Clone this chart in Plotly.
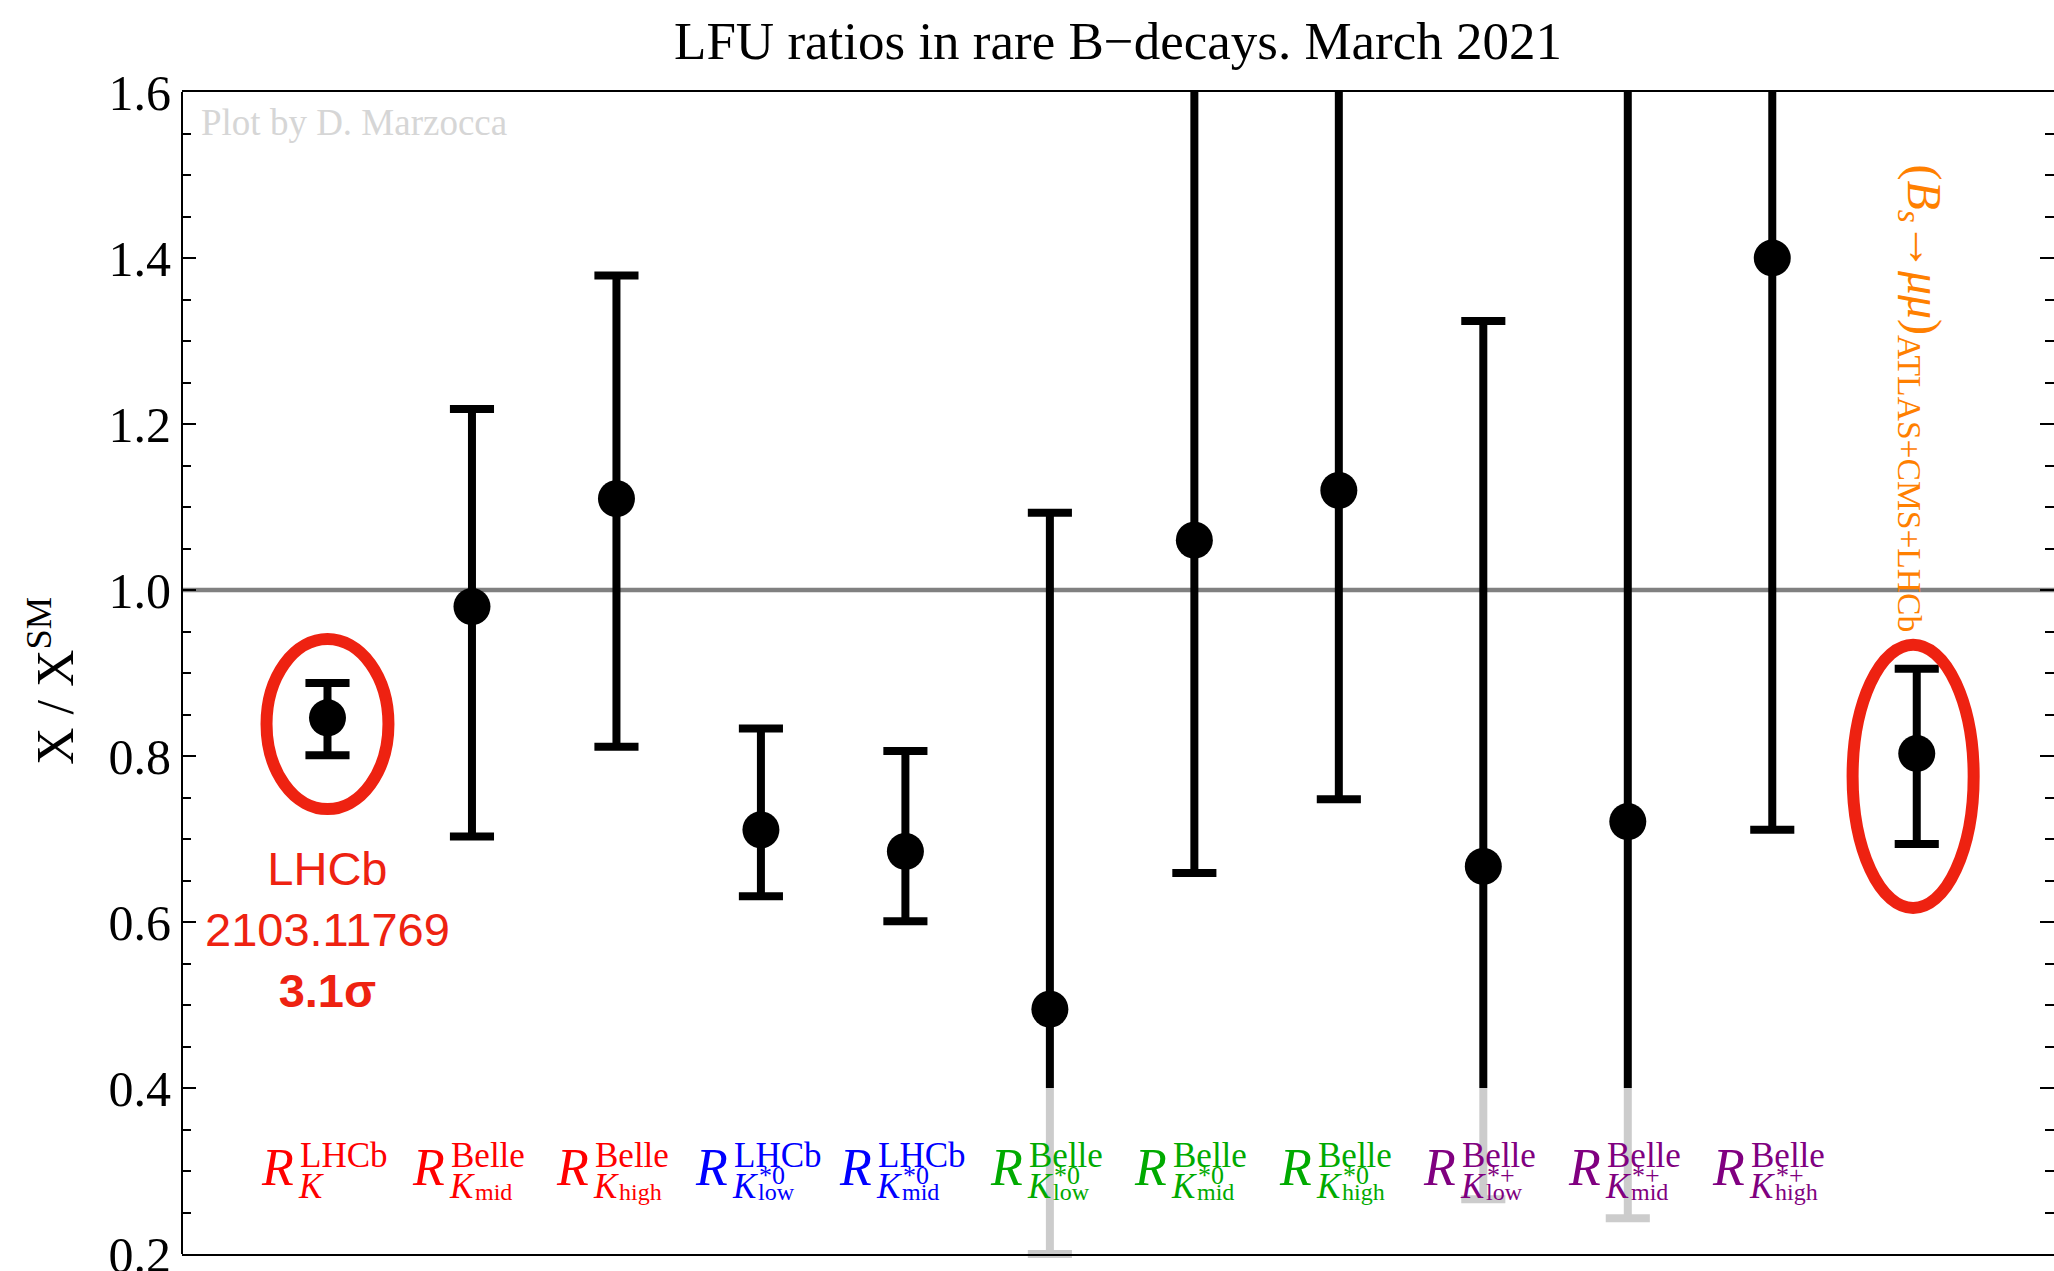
import plotly.graph_objects as go

# ---- data: ratios X / X_SM with 1-sigma intervals, one entry per measurement ----
positions = list(range(1, 13))
central = [0.846, 0.980, 1.110, 0.711, 0.685, 0.495, 1.060, 1.120, 0.667, 0.721, 1.400, 0.803]
upper = [0.888, 1.218, 1.379, 0.833, 0.806, 1.093, 1.720, 1.780, 1.324, 1.680, 2.100, 0.905]
lower = [0.801, 0.703, 0.811, 0.631, 0.601, 0.200, 0.659, 0.748, 0.266, 0.243, 0.711, 0.694]

# label pieces for the eleven R-ratios (R_{K...}^{experiment})
label_experiment = ["LHCb", "Belle", "Belle", "LHCb", "LHCb", "Belle", "Belle", "Belle",
                    "Belle", "Belle", "Belle"]
label_state = ["", "", "", "*0", "*0", "*0", "*0", "*0", "*+", "*+", "*+"]
label_bin = ["", "mid", "high", "low", "mid", "low", "mid", "high", "low", "mid", "high"]
label_colors = ["#ff0000"] * 3 + ["#0000ff"] * 2 + ["#00aa00"] * 3 + ["#800080"] * 3

y_ticks = [0.2, 0.4, 0.6, 0.8, 1.0, 1.2, 1.4, 1.6]
Y_MIN, Y_MAX = 0.2, 1.6
FADE_BELOW = 0.4          # error bars are drawn light gray below this value

SERIF = "Liberation Serif"
SANS = "Liberation Sans"
HIGHLIGHT = "#ee2211"

fig = go.Figure()


def segments(triples):
    xs, ys = [], []
    for x, a, b in triples:
        xs += [x, x, None]
        ys += [a, b, None]
    return xs, ys


black_parts = [(p, max(lo, FADE_BELOW), hi) for p, lo, hi in zip(positions, lower, upper)]
gray_parts = [(p, lo, FADE_BELOW) for p, lo in zip(positions, lower) if lo < FADE_BELOW]

gx, gy = segments(gray_parts)
fig.add_trace(go.Scatter(x=gx, y=gy, mode="lines", line=dict(color="#cccccc", width=8),
                         hoverinfo="skip", showlegend=False))
bx, by = segments(black_parts)
fig.add_trace(go.Scatter(x=bx, y=by, mode="lines", line=dict(color="black", width=8),
                         hoverinfo="skip", showlegend=False))

# caps at the interval ends that fall inside the plotted range
cap_x, cap_y, cap_c = [], [], []
for p, lo, hi in zip(positions, lower, upper):
    if hi <= Y_MAX:
        cap_x.append(p); cap_y.append(hi); cap_c.append("black")
    cap_x.append(p); cap_y.append(lo)
    cap_c.append("black" if lo >= FADE_BELOW else "#cccccc")
fig.add_trace(go.Scatter(
    x=cap_x, y=cap_y, mode="markers", cliponaxis=False,
    marker=dict(symbol="line-ew", size=31.5, color=cap_c,
                line=dict(color=cap_c, width=8)),
    hoverinfo="skip", showlegend=False))

fig.add_trace(go.Scatter(x=positions, y=central, mode="markers",
                         marker=dict(size=37, color="black"), showlegend=False))

# ---- frame, reference line at the SM value and highlight ellipses ----
shapes = [
    dict(type="line", xref="paper", yref="paper", x0=0, x1=0, y0=0, y1=1,
         line=dict(color="black", width=2), layer="above"),
    dict(type="line", xref="paper", yref="y", x0=0, x1=1, y0=1.0, y1=1.0,
         line=dict(color="#808080", width=4.5), layer="below"),
    dict(type="circle", xref="x", yref="y", x0=1 - 0.422, x1=1 + 0.422,
         y0=0.8385 - 0.1025, y1=0.8385 + 0.1025,
         line=dict(color=HIGHLIGHT, width=12)),
    dict(type="circle", xref="x", yref="y", x0=11.975 - 0.419, x1=11.975 + 0.419,
         y0=0.7754 - 0.1586, y1=0.7754 + 0.1586,
         line=dict(color=HIGHLIGHT, width=12)),
]

annotations = []

# composite labels R^{exp}_{K^{state}_{bin}}
LABEL_Y = 0.2836
for i, (exp, st, bn, col) in enumerate(zip(label_experiment, label_state, label_bin, label_colors)):
    xc = positions[i]
    off = 32 if exp == "LHCb" else 26
    common = dict(xref="x", yref="y", x=xc, y=LABEL_Y, showarrow=False, yanchor="middle")
    annotations.append(dict(common, text="<i>R</i>", xanchor="right", xshift=-off + 1, yshift=17.5,
                            font=dict(family=SERIF, size=52, color=col)))
    annotations.append(dict(common, text=exp, xanchor="left", xshift=-off + 3, yshift=28.8,
                            font=dict(family=SERIF, size=35, color=col)))
    annotations.append(dict(common, text="<i>K</i>", xanchor="left", xshift=-off + 1, yshift=-2.2,
                            font=dict(family=SERIF, size=35, color=col)))
    if st:
        annotations.append(dict(common, text=st, xanchor="left", xshift=-off + 28, yshift=8.8,
                                font=dict(family=SERIF, size=26, color=col)))
    if bn:
        annotations.append(dict(common, text=bn, xanchor="left", xshift=-off + 27, yshift=-6.9,
                                font=dict(family=SERIF, size=24, color=col)))

# LHCb result note
annotations.append(dict(xref="x", yref="y", x=1, y=0.591, showarrow=False,
                        xanchor="center", yanchor="middle",
                        text="LHCb<br>2103.11769<br><b>3.1σ</b>",
                        font=dict(family=SANS, size=47, color=HIGHLIGHT)))

# B_s -> mu mu label (vertical)
annotations.append(dict(xref="x", yref="y", x=12, y=1.231, xshift=4, showarrow=False,
                        textangle=90, xanchor="center", yanchor="middle",
                        text="(<i>B</i><sub><i>s</i></sub>→<i>μμ</i>)<sub>ATLAS+CMS+LHCb</sub>",
                        font=dict(family=SERIF, size=48, color="#ff8000")))

# credit line
annotations.append(dict(xref="paper", yref="paper", x=0, y=1, xshift=17, yshift=-8,
                        xanchor="left", yanchor="top", showarrow=False,
                        text="Plot by D. Marzocca",
                        font=dict(family=SERIF, size=37, color="#d6d6d6")))

# y-axis title
annotations.append(dict(xref="paper", yref="paper", x=0, y=0.5, xshift=-131, yshift=-8,
                        xanchor="center", yanchor="middle", showarrow=False, textangle=-90,
                        text="X / X<sup>SM</sup>",
                        font=dict(family=SERIF, size=52, color="black")))

fig.update_layout(
    width=2054, height=1271,
    margin=dict(l=182, r=0, t=92, b=17, autoexpand=False),
    paper_bgcolor="white", plot_bgcolor="white",
    title=dict(text="LFU ratios in rare B\u2212decays. March 2021", x=0.5, xref="paper",
               xanchor="center", y=1 - 40 / 1271, yref="container", yanchor="middle",
               font=dict(family=SERIF, size=53, color="black")),
    shapes=shapes, annotations=annotations, showlegend=False,
)

fig.update_xaxes(range=[-0.007, 12.95], showline=True, linecolor="black", linewidth=2,
                 mirror=True, ticks="", showticklabels=False, showgrid=False, zeroline=False,
                 automargin=False)
fig.update_yaxes(range=[Y_MIN, Y_MAX], tickmode="array", tickvals=y_ticks,
                 ticktext=[f"{v:.1f}" for v in y_ticks],
                 ticks="inside", ticklen=14, tickwidth=2, tickcolor="black",
                 minor=dict(dtick=0.05, tick0=0.2, ticks="inside", ticklen=9, tickwidth=1.5,
                            tickcolor="black", showgrid=False),
                 showline=False, mirror="ticks", automargin=False,
                 showgrid=False, zeroline=False, ticklabelstandoff=10,
                 ticklabeloverflow="allow",
                 tickfont=dict(family=SERIF, size=50, color="black"))

fig.write_html("out.html")
